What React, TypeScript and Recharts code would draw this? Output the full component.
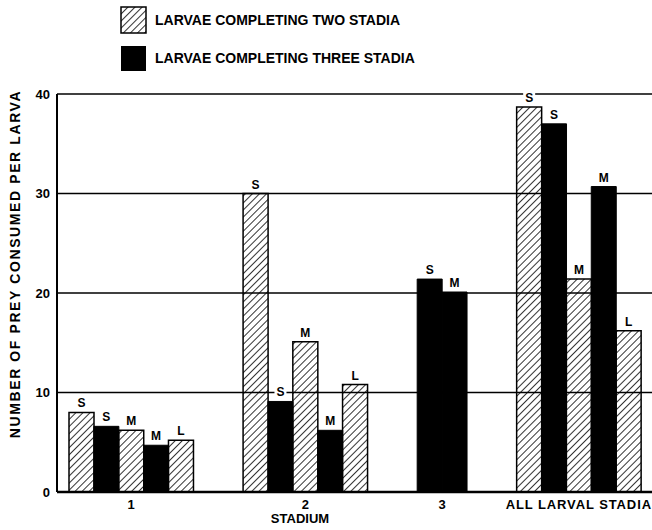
import { BarChart, Bar, XAxis, YAxis, CartesianGrid, LabelList, Legend, Label } from 'recharts';

const stadia = ['1', '2', '3', 'ALL LARVAL STADIA'];
const preySizes = ['S', 'M', 'L'];
// prey consumed per larva, by stadium (rows) and prey size S/M/L (columns)
const twoStadia: (number | null)[][] = [
  [8.0, 6.2, 5.2],
  [30.0, 15.1, 10.8],
  [null, null, null],
  [38.7, 21.4, 16.2],
];
const threeStadia: (number | null)[][] = [
  [6.6, 4.7, null],
  [9.1, 6.2, null],
  [21.4, 20.1, null],
  [37.0, 30.7, null],
];
const yTicks = [0, 10, 20, 30, 40];

const W = 653;
const H = 530;
const LEFT = 57;
const PAD = 12;

type Row = {
  slot: string;
  two: number | null;
  three: number | null;
  twoTag: string | null;
  threeTag: string | null;
};

const rows: Row[] = [];
const groupTicks: Record<number, { label: string; shift: number }> = {};
stadia.forEach((name, g) => {
  const start = rows.length;
  preySizes.forEach((size, s) => {
    const a = twoStadia[g][s];
    const b = threeStadia[g][s];
    if (a != null) rows.push({ slot: `${g}${size}2`, two: a, three: null, twoTag: size, threeTag: null });
    if (b != null) rows.push({ slot: `${g}${size}3`, two: null, three: b, twoTag: null, threeTag: size });
  });
  const n = rows.length - start;
  groupTicks[start + Math.floor(n / 2)] = { label: name, shift: n % 2 === 0 ? -0.5 : 0 };
  if (g < stadia.length - 1) {
    rows.push({ slot: `gap${g}a`, two: null, three: null, twoTag: null, threeTag: null });
    rows.push({ slot: `gap${g}b`, two: null, three: null, twoTag: null, threeTag: null });
  }
});

const band = (W - LEFT - 2 * PAD) / rows.length;
const font = '"Liberation Sans", Arial, sans-serif';

const StadiumTick = ({ x, y, payload }: any) => {
  const t = groupTicks[payload.index];
  if (!t) return <g />;
  return (
    <text
      x={x + t.shift * band}
      y={y + 9}
      textAnchor="middle"
      fontSize={13}
      fontWeight="bold"
      fontFamily={font}
      letterSpacing={t.label.length > 2 ? 0.9 : 0}
      fill="#000"
    >
      {t.label}
    </text>
  );
};

const tagLabel = (props: any) => {
  const { x, y, width, value } = props;
  if (value == null) return null;
  const cx = x + width / 2;
  return (
    <g>
      <rect x={cx - 6} y={y - 16} width={12} height={12} fill="#fff" />
      <text x={cx} y={y - 5} textAnchor="middle" fontSize={12} fontWeight="bold" fontFamily={font} fill="#000">
        {value}
      </text>
    </g>
  );
};

const LegendBox = () => (
  <svg width={460} height={80} style={{ display: 'block' }}>
    <defs>
      <pattern id="hatchLegend" patternUnits="userSpaceOnUse" width={5} height={5} patternTransform="rotate(45)">
        <line x1={0} y1={0} x2={0} y2={5} stroke="#000" strokeWidth={1.6} />
      </pattern>
    </defs>
    <rect x={121} y={7} width={25} height={26} fill="url(#hatchLegend)" stroke="#000" strokeWidth={1.5} />
    <text x={155} y={25} fontSize={14} fontWeight="bold" fontFamily={font}>LARVAE COMPLETING TWO STADIA</text>
    <rect x={121} y={46} width={25} height={25} fill="#000" />
    <text x={155} y={63} fontSize={14} fontWeight="bold" fontFamily={font}>LARVAE COMPLETING THREE STADIA</text>
  </svg>
);

export default function App() {
  return (
    <div style={{ position: 'absolute', left: 0, top: 0, width: 652, height: H, overflow: 'hidden', background: '#fff' }}>
      <BarChart
        width={W}
        height={H}
        data={rows}
        margin={{ top: 94, right: 0, left: 0, bottom: 0 }}
        barCategoryGap={0}
        barGap={0}
      >
        <defs>
          <pattern id="hatch" patternUnits="userSpaceOnUse" width={5} height={5} patternTransform="rotate(45)">
            <line x1={0} y1={0} x2={0} y2={5} stroke="#000" strokeWidth={1.6} />
          </pattern>
        </defs>
        <Legend
          layout="vertical"
          verticalAlign="middle"
          align="center"
          wrapperStyle={{ top: 0, left: 0, width: 460, height: 80 }}
          content={() => <LegendBox />}
        />
        <CartesianGrid vertical={false} stroke="#000" strokeWidth={1.5} />
        <XAxis
          dataKey="slot"
          type="category"
          interval={0}
          tickLine={false}
          padding={{ left: PAD, right: PAD }}
          height={38}
          axisLine={{ stroke: '#000', strokeWidth: 2.5 }}
          tick={<StadiumTick />}
        >
          <Label
            content={({ viewBox }: any) => (
              <text x={300} y={viewBox.y + 31} textAnchor="middle" fontSize={13} fontWeight="bold" fontFamily={font} fill="#000">
                STADIUM
              </text>
            )}
          />
        </XAxis>
        <YAxis
          width={LEFT}
          domain={[0, 40]}
          ticks={yTicks}
          interval={0}
          tickLine={false}
          tickSize={5}
          tickMargin={2}
          axisLine={{ stroke: '#000', strokeWidth: 2 }}
          tick={{ fill: '#000', fontSize: 13, fontWeight: 'bold', fontFamily: font }}
        >
          <Label
            content={({ viewBox }: any) => {
              const cy = viewBox.y + viewBox.height / 2 - 29;
              return (
                <text
                  x={15}
                  y={cy}
                  transform={`rotate(-90, 15, ${cy})`}
                  textAnchor="middle"
                  dominantBaseline="central"
                  fontSize={14}
                  fontWeight="bold"
                  fontFamily={font}
                  letterSpacing={1.6}
                  fill="#000"
                >
                  NUMBER OF PREY CONSUMED PER LARVA
                </text>
              );
            }}
          />
        </YAxis>
        <Bar dataKey="two" stackId="a" fill="url(#hatch)" stroke="#000" strokeWidth={1.5} isAnimationActive={false}>
          <LabelList dataKey="twoTag" content={tagLabel} />
        </Bar>
        <Bar dataKey="three" stackId="a" fill="#000" stroke="#000" strokeWidth={1} isAnimationActive={false}>
          <LabelList dataKey="threeTag" content={tagLabel} />
        </Bar>
      </BarChart>
    </div>
  );
}
